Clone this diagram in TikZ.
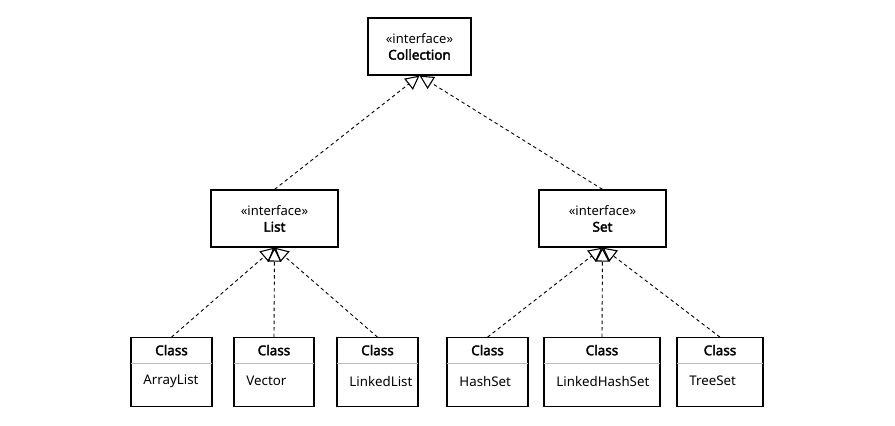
\documentclass[tikz,border=0pt]{standalone}
\usepackage{fontspec}
\setmainfont{Noto Sans}[BoldFont={Noto Sans},BoldFeatures={FakeBold=2.5}]
\usetikzlibrary{arrows.meta,calc}
\begin{document}
\begin{tikzpicture}[x=1pt,y=-1pt,
  box/.style={draw, line width=1.2pt, rectangle, inner sep=0pt},
  iface/.style={box, align=center, font=\fontsize{13}{16.5}\selectfont},
  cls/.style={box, minimum height=68.5pt},
  sep/.style={draw=gray!55, line width=1pt},
  ttl/.style={font=\fontsize{13.5}{16}\selectfont\bfseries},
  nm/.style={anchor=west, font=\fontsize{13.3}{16}\selectfont},
  impl/.style={line width=0.9pt, dash pattern=on 3.5pt off 3pt,
    -{Triangle[open,length=14pt,width=14pt,line width=1.1pt]}}]
\useasboundingbox (0,0) rectangle (895,426);
\fill[white] (0,0) rectangle (895,426);

\node[iface, minimum width=103pt, minimum height=57pt] (coll) at (419.5,46.5) {«interface»\\\textbf{\fontsize{13.5}{16.5}\selectfont Collection}};
\node[iface, minimum width=127pt, minimum height=57pt] (list) at (274.5,218.5) {«interface»\\\textbf{\fontsize{13.5}{16.5}\selectfont List}};
\node[iface, minimum width=127pt, minimum height=57pt] (set) at (602.5,218.5) {«interface»\\\textbf{\fontsize{13.5}{16.5}\selectfont Set}};

\node[cls, minimum width=81pt] (al) at (171.5,372) {};
\node[cls, minimum width=80pt] (vec) at (274,372) {};
\node[cls, minimum width=81pt] (ll) at (377.5,372) {};
\node[cls, minimum width=81pt] (hs) at (487.5,372) {};
\node[cls, minimum width=116pt] (lhs) at (602,372) {};
\node[cls, minimum width=86pt] (ts) at (720,372) {};

\foreach \n/\t in {al/ArrayList, vec/Vector, ll/LinkedList, hs/HashSet, lhs/LinkedHashSet, ts/TreeSet}{
  \draw[sep] ($(\n.north west)+(0.6,26)$) -- ($(\n.north east)+(-0.6,26)$);
  \node[ttl] (\n-t) at ($(\n.north)+(0,13)$) {Class};
  \node[nm] (\n-n) at ($(\n.north west)+(9.5,44)$) {\t};
}

\draw[impl] (list.north) -- (coll.south);
\draw[impl] (set.north) -- (coll.south);
\draw[impl] (al.north) -- (list.south);
\draw[impl] (vec.north) -- (list.south);
\draw[impl] (ll.north) -- (list.south);
\draw[impl] (hs.north) -- (set.south);
\draw[impl] (lhs.north) -- (set.south);
\draw[impl] (ts.north) -- (set.south);
\end{tikzpicture}
\end{document}
